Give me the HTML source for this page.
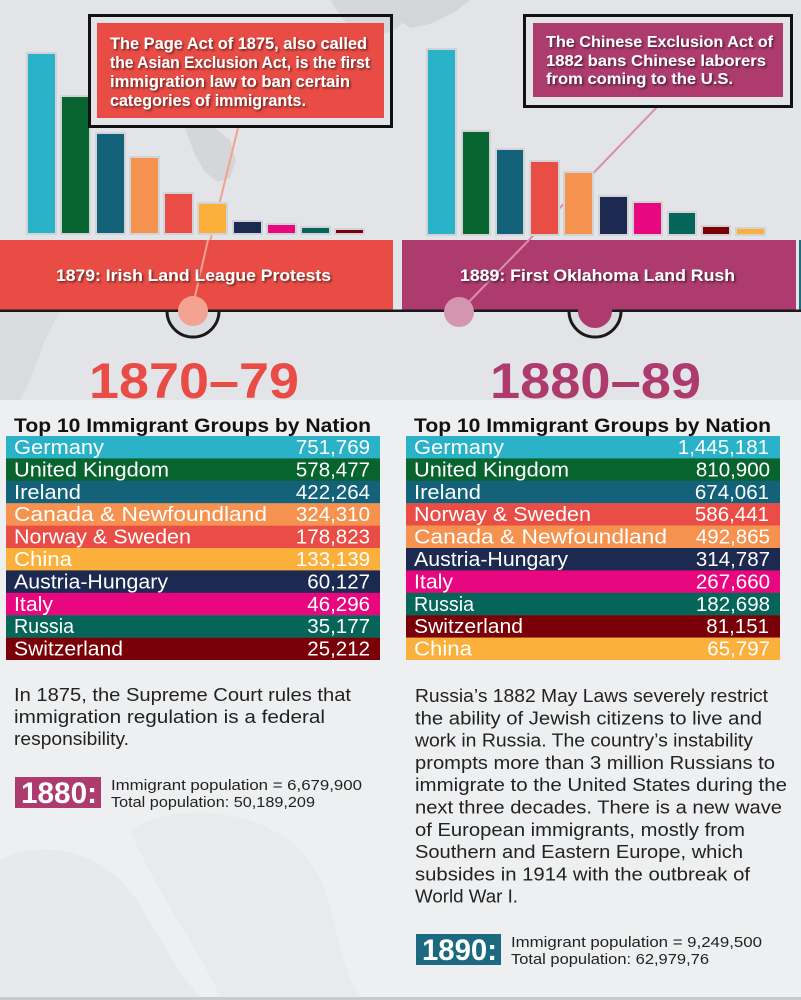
<!DOCTYPE html>
<html>
<head>
<meta charset="utf-8">
<style>
html,body{margin:0;padding:0;background:#edeef0;}
svg{display:block;}
text{font-family:"Liberation Sans",sans-serif;}
</style>
</head>
<body>
<svg width="801" height="1000" viewBox="0 0 801 1000" xmlns="http://www.w3.org/2000/svg">
<defs>
<filter id="sh" x="-10%" y="-30%" width="120%" height="160%">
<feDropShadow dx="1.5" dy="1.5" stdDeviation="1" flood-color="#000" flood-opacity="0.55"/>
</filter>
</defs>

<!-- background -->
<rect x="0" y="0" width="801" height="400" fill="#e3e4e7"/>
<rect x="0" y="400" width="801" height="597" fill="#eeeff0"/>
<rect x="0" y="997" width="801" height="3" fill="#c9cacc"/>

<!-- faint map shapes -->
<path d="M330 0 L420 0 L412 14 L395 30 L370 38 L352 30 L340 16 Z" fill="#d6d7da"/>
<path d="M400 0 L470 0 L455 12 L430 24 L410 28 L400 20 Z" fill="#d4d5d8"/>
<path d="M185 128 L215 128 L230 140 L236 160 L230 178 L218 182 L205 172 L195 155 Z" fill="#d5d6d9"/>
<path d="M0 311 L60 311 L45 340 L30 380 L20 400 L0 400 Z" fill="#dadbde"/>
<path d="M0 860 C40 840 90 850 120 880 C150 910 160 950 200 997 L0 997 Z" fill="#e8e9eb"/>
<path d="M130 830 C180 800 260 810 300 850 C340 890 330 950 360 997 L220 997 C200 950 160 900 130 830 Z" fill="#e9eaec"/>

<!-- connector lines (behind bars) -->
<line x1="238" y1="128" x2="208" y2="250" stroke="#f2a191" stroke-width="2"/>
<line x1="657" y1="107" x2="529" y2="240" stroke="#d88fae" stroke-width="2"/>

<!-- left bars -->
<g stroke="#d2d3d6" stroke-width="2">
<rect x="27" y="53" width="29" height="181" fill="#2ab3c8"/>
<rect x="61" y="96" width="29" height="138" fill="#07642f"/>
<rect x="96" y="133" width="29" height="101" fill="#13627a"/>
<rect x="130" y="157" width="29" height="77" fill="#f5924f"/>
<rect x="164" y="193" width="29" height="41" fill="#e94d45"/>
<rect x="198" y="203" width="29" height="31" fill="#fbb03b"/>
<rect x="233" y="221" width="29" height="13" fill="#1c2951"/>
<rect x="267" y="224" width="29" height="10" fill="#e9077f"/>
<rect x="301" y="227" width="29" height="7" fill="#056558"/>
<rect x="335" y="229" width="29" height="5" fill="#780006"/>
</g>

<!-- right bars -->
<g stroke="#d2d3d6" stroke-width="2">
<rect x="427" y="49" width="29" height="186" fill="#2ab3c8"/>
<rect x="462" y="131" width="28" height="104" fill="#07642f"/>
<rect x="496" y="149" width="28" height="86" fill="#13627a"/>
<rect x="530" y="161" width="29" height="74" fill="#e94d45"/>
<rect x="564" y="172" width="29" height="63" fill="#f5924f"/>
<rect x="599" y="196" width="29" height="39" fill="#1c2951"/>
<rect x="633" y="202" width="29" height="33" fill="#e9077f"/>
<rect x="668" y="212" width="28" height="23" fill="#056558"/>
<rect x="702" y="226" width="28" height="9" fill="#780006"/>
<rect x="736" y="228" width="29" height="7" fill="#fbb03b"/>
</g>

<!-- left callout -->
<rect x="89.5" y="15.5" width="302" height="111" fill="none" stroke="#111" stroke-width="3"/>
<rect x="97" y="23" width="287" height="95" fill="#e84c45"/>
<g fill="#fff" font-weight="bold" font-size="16.5" filter="url(#sh)">
<text x="110" y="49" textLength="257" lengthAdjust="spacingAndGlyphs">The Page Act of 1875, also called</text>
<text x="110" y="68" textLength="260" lengthAdjust="spacingAndGlyphs">the Asian Exclusion Act, is the first</text>
<text x="110" y="87" textLength="240" lengthAdjust="spacingAndGlyphs">immigration law to ban certain</text>
<text x="110" y="106" textLength="196" lengthAdjust="spacingAndGlyphs">categories of immigrants.</text>
</g>

<!-- right callout -->
<rect x="524.5" y="15.5" width="267" height="91" fill="none" stroke="#111" stroke-width="3"/>
<rect x="533" y="23" width="250" height="74" fill="#ad3b6e"/>
<g fill="#fff" font-weight="bold" font-size="16" filter="url(#sh)">
<text x="546" y="47" textLength="227" lengthAdjust="spacingAndGlyphs">The Chinese Exclusion Act of</text>
<text x="546" y="66" textLength="220" lengthAdjust="spacingAndGlyphs">1882 bans Chinese laborers</text>
<text x="546" y="84" textLength="187" lengthAdjust="spacingAndGlyphs">from coming to the U.S.</text>
</g>

<!-- rings below the line -->
<circle cx="193" cy="311" r="26" fill="#dcdde0" stroke="#1a1a1a" stroke-width="3"/>
<circle cx="595" cy="311" r="26" fill="#dcdde0" stroke="#1a1a1a" stroke-width="3"/>

<!-- band -->
<rect x="0" y="240" width="393" height="70" fill="#e84c45"/>
<rect x="402" y="240" width="394" height="70" fill="#ad3b6e"/>
<rect x="799" y="240" width="2" height="70" fill="#1b6d83"/>
<rect x="0" y="309.5" width="801" height="2.5" fill="#1a1a1a"/>

<!-- cover ring tops (inside band) -->
<circle cx="595" cy="311" r="17" fill="#ad3b6e"/>

<!-- connector lines over band -->
<line x1="208" y1="240" x2="193" y2="305" stroke="#f2a191" stroke-width="2"/>
<line x1="529" y1="240" x2="461" y2="310" stroke="#d88fae" stroke-width="2"/>
<circle cx="193" cy="311" r="15" fill="#f4a393"/>
<circle cx="459" cy="312" r="15" fill="#d495b0"/>

<g fill="#fff" font-weight="bold" font-size="17" filter="url(#sh)">
<text x="56" y="281" textLength="275" lengthAdjust="spacingAndGlyphs">1879: Irish Land League Protests</text>
<text x="460" y="281" textLength="275" lengthAdjust="spacingAndGlyphs">1889: First Oklahoma Land Rush</text>
</g>

<!-- big years -->
<text x="89" y="398" font-size="50" font-weight="bold" fill="#e84c45" textLength="210" lengthAdjust="spacingAndGlyphs">1870–79</text>
<text x="490" y="398" font-size="50" font-weight="bold" fill="#ad3b6e" textLength="211" lengthAdjust="spacingAndGlyphs">1880–89</text>

<!-- table headings -->
<text x="14" y="432" font-size="19" font-weight="bold" fill="#111" textLength="357" lengthAdjust="spacingAndGlyphs">Top 10 Immigrant Groups by Nation</text>
<text x="414" y="432" font-size="19" font-weight="bold" fill="#111" textLength="357" lengthAdjust="spacingAndGlyphs">Top 10 Immigrant Groups by Nation</text>

<!-- left table -->
<g>
<rect x="6" y="436" width="374" height="22.6" fill="#2ab3c8"/>
<rect x="6" y="458.4" width="374" height="22.6" fill="#07642f"/>
<rect x="6" y="480.8" width="374" height="22.6" fill="#13627a"/>
<rect x="6" y="503.2" width="374" height="22.6" fill="#f5924f"/>
<rect x="6" y="525.6" width="374" height="22.6" fill="#e94d45"/>
<rect x="6" y="548" width="374" height="22.6" fill="#fbb03b"/>
<rect x="6" y="570.4" width="374" height="22.6" fill="#1c2951"/>
<rect x="6" y="592.8" width="374" height="22.6" fill="#e9077f"/>
<rect x="6" y="615.2" width="374" height="22.6" fill="#056558"/>
<rect x="6" y="637.6" width="374" height="22.4" fill="#780006"/>
</g>
<g fill="#fff" font-size="20">
<text x="14" y="454" textLength="90" lengthAdjust="spacingAndGlyphs">Germany</text>
<text x="14" y="476.4" textLength="155" lengthAdjust="spacingAndGlyphs">United Kingdom</text>
<text x="14" y="498.8" textLength="67" lengthAdjust="spacingAndGlyphs">Ireland</text>
<text x="14" y="521.2" textLength="253" lengthAdjust="spacingAndGlyphs">Canada &amp; Newfoundland</text>
<text x="14" y="543.6" textLength="177" lengthAdjust="spacingAndGlyphs">Norway &amp; Sweden</text>
<text x="14" y="566" textLength="58" lengthAdjust="spacingAndGlyphs">China</text>
<text x="14" y="588.4" textLength="154" lengthAdjust="spacingAndGlyphs">Austria-Hungary</text>
<text x="14" y="610.8" textLength="39" lengthAdjust="spacingAndGlyphs">Italy</text>
<text x="14" y="633.2" textLength="60" lengthAdjust="spacingAndGlyphs">Russia</text>
<text x="14" y="655.6" textLength="109" lengthAdjust="spacingAndGlyphs">Switzerland</text>
</g>
<g fill="#fff" font-size="20.5" text-anchor="end">
<text x="370" y="454">751,769</text>
<text x="370" y="476.4">578,477</text>
<text x="370" y="498.8">422,264</text>
<text x="370" y="521.2">324,310</text>
<text x="370" y="543.6">178,823</text>
<text x="370" y="566">133,139</text>
<text x="370" y="588.4">60,127</text>
<text x="370" y="610.8">46,296</text>
<text x="370" y="633.2">35,177</text>
<text x="370" y="655.6">25,212</text>
</g>

<!-- right table -->
<g>
<rect x="406" y="436" width="374" height="22.6" fill="#2ab3c8"/>
<rect x="406" y="458.4" width="374" height="22.6" fill="#07642f"/>
<rect x="406" y="480.8" width="374" height="22.6" fill="#13627a"/>
<rect x="406" y="503.2" width="374" height="22.6" fill="#e94d45"/>
<rect x="406" y="525.6" width="374" height="22.6" fill="#f5924f"/>
<rect x="406" y="548" width="374" height="22.6" fill="#1c2951"/>
<rect x="406" y="570.4" width="374" height="22.6" fill="#e9077f"/>
<rect x="406" y="592.8" width="374" height="22.6" fill="#056558"/>
<rect x="406" y="615.2" width="374" height="22.6" fill="#780006"/>
<rect x="406" y="637.6" width="374" height="22.4" fill="#fbb03b"/>
</g>
<g fill="#fff" font-size="20">
<text x="414" y="454" textLength="90" lengthAdjust="spacingAndGlyphs">Germany</text>
<text x="414" y="476.4" textLength="155" lengthAdjust="spacingAndGlyphs">United Kingdom</text>
<text x="414" y="498.8" textLength="67" lengthAdjust="spacingAndGlyphs">Ireland</text>
<text x="414" y="521.2" textLength="177" lengthAdjust="spacingAndGlyphs">Norway &amp; Sweden</text>
<text x="414" y="543.6" textLength="253" lengthAdjust="spacingAndGlyphs">Canada &amp; Newfoundland</text>
<text x="414" y="566" textLength="154" lengthAdjust="spacingAndGlyphs">Austria-Hungary</text>
<text x="414" y="588.4" textLength="39" lengthAdjust="spacingAndGlyphs">Italy</text>
<text x="414" y="610.8" textLength="60" lengthAdjust="spacingAndGlyphs">Russia</text>
<text x="414" y="633.2" textLength="109" lengthAdjust="spacingAndGlyphs">Switzerland</text>
<text x="414" y="655.6" textLength="58" lengthAdjust="spacingAndGlyphs">China</text>
</g>
<g fill="#fff" font-size="20.5" text-anchor="end">
<text x="769" y="454">1,445,181</text>
<text x="770" y="476.4">810,900</text>
<text x="769" y="498.8">674,061</text>
<text x="769" y="521.2">586,441</text>
<text x="770" y="543.6">492,865</text>
<text x="770" y="566">314,787</text>
<text x="770" y="588.4">267,660</text>
<text x="770" y="610.8">182,698</text>
<text x="769" y="633.2">81,151</text>
<text x="770" y="655.6">65,797</text>
</g>

<!-- left paragraph -->
<g fill="#222" font-size="18.5">
<text x="14" y="701" textLength="337" lengthAdjust="spacingAndGlyphs">In 1875, the Supreme Court rules that</text>
<text x="14" y="723" textLength="311" lengthAdjust="spacingAndGlyphs">immigration regulation is a federal</text>
<text x="14" y="745" textLength="115" lengthAdjust="spacingAndGlyphs">responsibility.</text>
</g>

<rect x="15" y="777" width="86" height="31" fill="#ad3b6e"/>
<text x="21" y="803" font-size="30" font-weight="bold" fill="#fff" textLength="76" lengthAdjust="spacingAndGlyphs">1880:</text>
<g fill="#222" font-size="14.5">
<text x="111" y="790" textLength="251" lengthAdjust="spacingAndGlyphs">Immigrant population = 6,679,900</text>
<text x="111" y="807" textLength="204" lengthAdjust="spacingAndGlyphs">Total population: 50,189,209</text>
</g>

<!-- right paragraph -->
<g fill="#222" font-size="18.5">
<text x="415" y="702" textLength="353" lengthAdjust="spacingAndGlyphs">Russia’s 1882 May Laws severely restrict</text>
<text x="415" y="724.3" textLength="347" lengthAdjust="spacingAndGlyphs">the ability of Jewish citizens to live and</text>
<text x="415" y="746.6" textLength="338" lengthAdjust="spacingAndGlyphs">work in Russia. The country’s instability</text>
<text x="415" y="768.9" textLength="360" lengthAdjust="spacingAndGlyphs">prompts more than 3 million Russians to</text>
<text x="415" y="791.2" textLength="372" lengthAdjust="spacingAndGlyphs">immigrate to the United States during the</text>
<text x="415" y="813.5" textLength="367" lengthAdjust="spacingAndGlyphs">next three decades. There is a new wave</text>
<text x="415" y="835.8" textLength="330" lengthAdjust="spacingAndGlyphs">of European immigrants, mostly from</text>
<text x="415" y="858.1" textLength="328" lengthAdjust="spacingAndGlyphs">Southern and Eastern Europe, which</text>
<text x="415" y="880.4" textLength="335" lengthAdjust="spacingAndGlyphs">subsides in 1914 with the outbreak of</text>
<text x="415" y="902.7" textLength="103" lengthAdjust="spacingAndGlyphs">World War I.</text>
</g>

<rect x="416" y="934" width="85" height="31" fill="#1b6a80"/>
<text x="422" y="960" font-size="30" font-weight="bold" fill="#fff" textLength="75" lengthAdjust="spacingAndGlyphs">1890:</text>
<g fill="#222" font-size="14.5">
<text x="511" y="947" textLength="251" lengthAdjust="spacingAndGlyphs">Immigrant population = 9,249,500</text>
<text x="511" y="964" textLength="198" lengthAdjust="spacingAndGlyphs">Total population: 62,979,76</text>
</g>
</svg>
</body>
</html>
